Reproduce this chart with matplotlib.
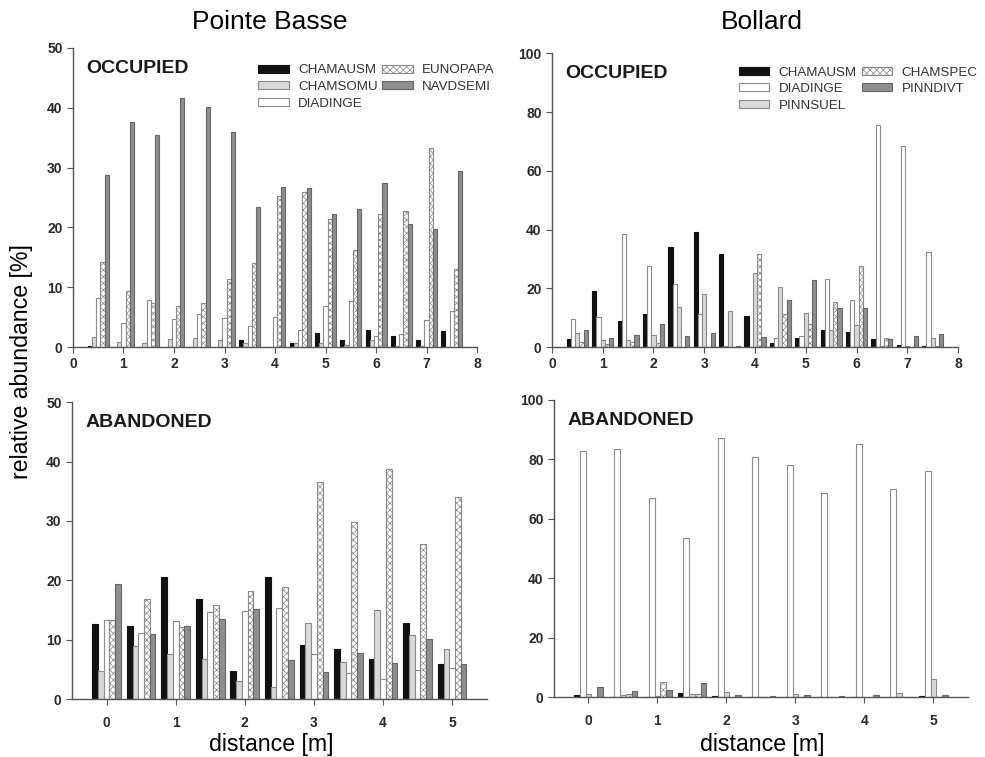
import matplotlib
matplotlib.use("Agg")
import matplotlib.pyplot as plt

plt.rcParams["font.family"] = ["Liberation Sans", "DejaVu Sans"]
plt.rcParams["hatch.linewidth"] = 0.5

# Pointe Basse, occupied (distance 0.5 .. 7.5 m)
pb_occ_dist = [0.5, 1.0, 1.5, 2.0, 2.5, 3.0, 3.5, 4.0, 4.5, 5.0, 5.5, 6.0, 6.5, 7.0, 7.5]
pb_occ_chamausm = [0.2, 0, 0, 0, 0, 0, 1.1, 0, 0.6, 2.3, 1.2, 2.8, 1.8, 1.1, 2.7]
pb_occ_chamsomu = [1.6, 0.8, 0.7, 1.4, 1.5, 1.1, 0.7, 0, 0.7, 0.7, 0.3, 1.1, 0.2, 0.2, 0]
pb_occ_diadinge = [8.2, 4.0, 7.9, 4.7, 5.6, 4.9, 3.5, 5.0, 2.8, 6.9, 7.7, 1.8, 2.1, 4.5, 6.1]
pb_occ_eunopapa = [14.2, 9.4, 7.3, 6.8, 7.3, 11.4, 14.0, 25.3, 26.0, 21.4, 16.2, 22.2, 22.8, 33.3, 13.0]
pb_occ_navdsemi = [28.7, 37.7, 35.4, 41.6, 40.1, 36.0, 23.4, 26.7, 26.6, 22.2, 23.0, 27.5, 20.5, 19.7, 29.5]

# Bollard, occupied
bo_occ_dist = [0.5, 1.0, 1.5, 2.0, 2.5, 3.0, 3.5, 4.0, 4.5, 5.0, 5.5, 6.0, 6.5, 7.0, 7.5]
bo_occ_chamausm = [2.6, 19.1, 8.8, 11.4, 33.9, 39.0, 31.7, 10.5, 1.4, 3.1, 5.9, 5.1, 2.8, 0.6, 0.3]
bo_occ_diadinge = [9.4, 10.2, 38.6, 27.7, 21.3, 11.1, 0.2, 0, 3.1, 3.6, 23.3, 15.9, 75.5, 68.6, 32.4]
bo_occ_pinnsuel = [4.9, 2.5, 2.5, 4.2, 13.5, 18.0, 12.3, 25.3, 20.5, 11.6, 5.9, 7.4, 0.4, 0.5, 3.1]
bo_occ_chamspec = [1.7, 1.1, 1.7, 1.4, 0, 0, 0, 31.8, 11.1, 7.7, 15.2, 27.7, 3.1, 0, 0.3]
bo_occ_pinndivt = [5.9, 3.1, 4.2, 7.7, 3.6, 4.9, 0.2, 3.4, 16.1, 22.7, 13.4, 13.3, 2.8, 3.6, 4.5]

# Pointe Basse, abandoned (distance 0 .. 5 m)
pb_ab_dist = [0, 0.5, 1.0, 1.5, 2.0, 2.5, 3.0, 3.5, 4.0, 4.5, 5.0]
pb_ab_chamausm = [12.6, 12.3, 20.5, 16.8, 4.7, 20.6, 9.1, 8.5, 6.8, 12.9, 5.9]
pb_ab_chamsomu = [4.8, 8.9, 7.6, 6.8, 3.1, 2.0, 12.8, 6.2, 15.0, 10.9, 8.5]
pb_ab_diadinge = [13.3, 11.2, 13.2, 14.7, 14.9, 15.4, 7.7, 4.5, 3.4, 4.9, 5.3]
pb_ab_eunopapa = [13.3, 16.9, 12.2, 15.8, 18.2, 18.9, 36.5, 29.9, 38.7, 26.2, 34.1]
pb_ab_navdsemi = [19.4, 11.0, 12.4, 13.5, 15.2, 6.6, 4.6, 7.8, 6.1, 10.1, 5.9]

# Bollard, abandoned
bo_ab_dist = [0, 0.5, 1.0, 1.5, 2.0, 2.5, 3.0, 3.5, 4.0, 4.5, 5.0]
bo_ab_chamausm = [0.6, 0, 0.2, 1.6, 0.4, 0, 0, 0, 0, 0, 0.3]
bo_ab_diadinge = [82.7, 83.4, 67.2, 53.6, 87.1, 80.8, 78.0, 68.8, 85.3, 70.0, 76.2]
bo_ab_pinnsuel = [1.0, 0.8, 0.4, 1.1, 1.7, 0, 1.0, 0, 0, 1.6, 6.1]
bo_ab_chamspec = [0, 1.1, 5.3, 1.1, 0, 0, 0, 0, 0.2, 0, 0]
bo_ab_pinndivt = [3.3, 2.1, 2.5, 4.9, 0.9, 0.3, 0.6, 0.3, 0.6, 0.2, 0.9]

pb_names = ["CHAMAUSM", "CHAMSOMU", "DIADINGE", "EUNOPAPA", "NAVDSEMI"]
bo_names = ["CHAMAUSM", "DIADINGE", "PINNSUEL", "CHAMSPEC", "PINNDIVT"]

STYLE = {
    "CHAMAUSM": dict(facecolor="#111111", edgecolor="#111111", hatch=None),
    "CHAMSOMU": dict(facecolor="#d9d9d9", edgecolor="#8a8a8a", hatch=None),
    "PINNSUEL": dict(facecolor="#d9d9d9", edgecolor="#8a8a8a", hatch=None),
    "DIADINGE": dict(facecolor="white", edgecolor="#8a8a8a", hatch=None),
    "EUNOPAPA": dict(facecolor="white", edgecolor="#8a8a8a", hatch="xxxxx"),
    "CHAMSPEC": dict(facecolor="white", edgecolor="#8a8a8a", hatch="xxxxx"),
    "NAVDSEMI": dict(facecolor="#8e8e8e", edgecolor="#666666", hatch=None),
    "PINNDIVT": dict(facecolor="#8e8e8e", edgecolor="#666666", hatch=None),
}

AXC = "#555555"
BAR_W = 0.083


def draw_panel(ax, dist, series, names, xlim, ylim, xticks, yticks, label, legend, pad):
    for i, (name, vals) in enumerate(zip(names, series)):
        pos = [d + (i - 2) * BAR_W for d in dist]
        ax.bar(pos, vals, width=BAR_W, linewidth=0.8, label=name, **STYLE[name])
    ax.set_xlim(*xlim)
    ax.set_ylim(*ylim)
    ax.set_xticks(xticks)
    ax.set_yticks(yticks)
    for side in ("top", "right"):
        ax.spines[side].set_visible(False)
    for side in ("left", "bottom"):
        ax.spines[side].set_color(AXC)
        ax.spines[side].set_linewidth(1.0)
    ax.tick_params(axis="both", direction="out", length=4, width=0.8, color=AXC,
                   labelsize=10, labelcolor="#2a2a2a")
    ax.tick_params(axis="x", pad=pad)
    for lab in ax.get_xticklabels() + ax.get_yticklabels():
        lab.set_fontweight("bold")
    ax.text(0.032, 0.93, label, transform=ax.transAxes, fontsize=14, fontweight="bold",
            color="#1a1a1a", va="center", ha="left")
    if legend:
        ax.legend(loc="upper left", bbox_to_anchor=legend, ncol=2, frameon=False,
                  fontsize=9.6, handlelength=2.3, handleheight=0.55, handletextpad=0.7,
                  columnspacing=0.35, labelspacing=0.34, borderaxespad=0, borderpad=0,
                  labelcolor="#333333")


fig = plt.figure(figsize=(9.85, 7.57), dpi=100)

ax_tl = fig.add_axes([0.0741, 0.5416, 0.4102, 0.395])
ax_tr = fig.add_axes([0.5604, 0.5416, 0.4122, 0.388])
ax_bl = fig.add_axes([0.0731, 0.0762, 0.4210, 0.3926])
ax_br = fig.add_axes([0.5624, 0.0789, 0.4203, 0.3927])

draw_panel(ax_tl, pb_occ_dist,
           [pb_occ_chamausm, pb_occ_chamsomu, pb_occ_diadinge, pb_occ_eunopapa, pb_occ_navdsemi],
           pb_names, (0, 8), (0, 50), range(0, 9), range(0, 51, 10), "OCCUPIED",
           (0.458, 0.945), 3)
draw_panel(ax_tr, bo_occ_dist,
           [bo_occ_chamausm, bo_occ_diadinge, bo_occ_pinnsuel, bo_occ_chamspec, bo_occ_pinndivt],
           bo_names, (0, 8), (0, 100), range(0, 9), range(0, 101, 20), "OCCUPIED",
           (0.46, 0.955), 3)
draw_panel(ax_bl, pb_ab_dist,
           [pb_ab_chamausm, pb_ab_chamsomu, pb_ab_diadinge, pb_ab_eunopapa, pb_ab_navdsemi],
           pb_names, (-0.5, 5.5), (0, 50), range(0, 6), range(0, 51, 10), "ABANDONED",
           None, 8)
draw_panel(ax_br, bo_ab_dist,
           [bo_ab_chamausm, bo_ab_diadinge, bo_ab_pinnsuel, bo_ab_chamspec, bo_ab_pinndivt],
           bo_names, (-0.5, 5.5), (0, 100), range(0, 6), range(0, 101, 20), "ABANDONED",
           None, 8)

fig.text(270 / 985, 1 - 22 / 757, "Pointe Basse", fontsize=19, ha="center", va="center")
fig.text(762 / 985, 1 - 22 / 757, "Bollard", fontsize=19, ha="center", va="center")
fig.text(22 / 985, 1 - 362 / 757, "relative abundance [%]", fontsize=16.7, rotation=90,
         ha="center", va="center")
fig.text(271 / 985, 1 - 745 / 757, "distance [m]", fontsize=16.7, ha="center", va="center")
fig.text(762 / 985, 1 - 745 / 757, "distance [m]", fontsize=16.7, ha="center", va="center")

fig.savefig("out.png", dpi=100)
